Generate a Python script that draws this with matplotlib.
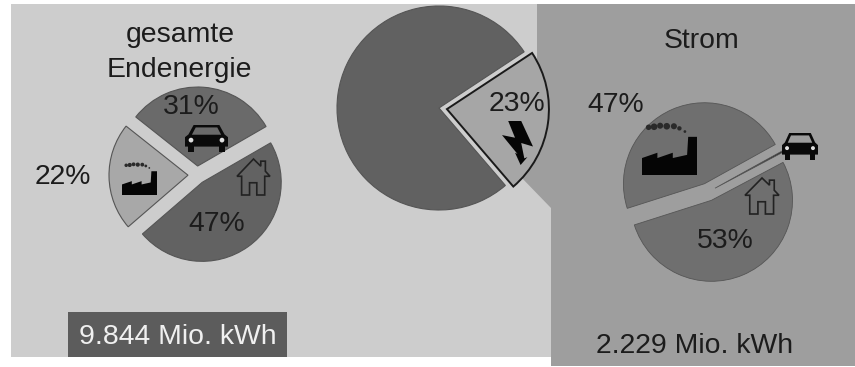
import numpy as np
import matplotlib
matplotlib.use("Agg")
import matplotlib.pyplot as plt
from matplotlib.patches import Polygon, Circle, Rectangle

plt.rcParams['font.family'] = ['Liberation Sans', 'DejaVu Sans']

W, H = 855, 367

# shares in percent
total_labels = ['Verkehr', 'Industrie', 'Haushalte']
total_values = [31, 22, 47]
mid_labels = ['Strom', 'Rest']
mid_values = [23, 77]
power_labels = ['Industrie', 'Haushalte', 'Verkehr']
power_values = [47, 53, 0.3]

total_sum = '9.844 Mio. kWh'
power_sum = '2.229 Mio. kWh'

LIGHT = '#cdcdcd'
DARK = '#9e9e9e'
INK = '#1c1c1c'


def Y(y):
    return H - y


def pts(shape, x0, y0, w, h):
    # unit coords (y pointing down) to axes coords
    return [(x0 + px * w, Y(y0 + py * h)) for px, py in shape]


def draw_car(ax, x0, y0, w, h, bg):
    body = [(0.2, 0.0), (0.8, 0.0), (0.92, 0.35), (1.0, 0.45), (1.0, 0.8), (0.0, 0.8), (0.0, 0.45), (0.08, 0.35)]
    ax.add_patch(Polygon(pts(body, x0, y0, w, h), fc='#0a0a0a', ec='none', zorder=5))
    window = [(0.25, 0.09), (0.75, 0.09), (0.84, 0.36), (0.16, 0.36)]
    ax.add_patch(Polygon(pts(window, x0, y0, w, h), fc=bg, ec='none', zorder=6))
    for cx in (0.14, 0.86):
        ax.add_patch(Rectangle((x0 + (cx - 0.07) * w, Y(y0 + h)), 0.14 * w, 0.25 * h,
                               fc='#0a0a0a', ec='none', zorder=5))
        ax.add_patch(Circle((x0 + cx * w, Y(y0 + 0.56 * h)), 0.055 * w, fc='#e0e0e0', ec='none', zorder=6))


def draw_house(ax, x0, y0, w, h):
    shape = [(0.5, 0.0), (0.72, 0.2), (0.72, 0.06), (0.86, 0.06), (0.86, 0.34), (1.0, 0.48), (0.84, 0.48),
             (0.84, 1.0), (0.6, 1.0), (0.6, 0.66), (0.38, 0.66), (0.38, 1.0), (0.14, 1.0), (0.14, 0.48), (0.0, 0.48)]
    ax.add_patch(Polygon(pts(shape, x0, y0, w, h), fc='none', ec='#222222', lw=1.2, zorder=5))


def draw_factory(ax, x0, y0, w, h, bg):
    shape = [(0.0, 1.0), (0.0, 0.68), (0.28, 0.58), (0.28, 0.68), (0.56, 0.58), (0.56, 0.68), (0.82, 0.62),
             (0.84, 0.28), (1.0, 0.28), (1.0, 1.0)]
    ax.add_patch(Polygon(pts(shape, x0, y0, w, h), fc='#050505', ec='none', zorder=5))
    # smoke puffs rising from the chimney
    for px, py, r in [(0.12, 0.1, 0.05), (0.22, 0.09, 0.06), (0.33, 0.07, 0.055), (0.45, 0.08, 0.06),
                      (0.58, 0.08, 0.055), (0.68, 0.12, 0.04), (0.78, 0.18, 0.025)]:
        ax.add_patch(Circle((x0 + px * w, Y(y0 + py * h)), r * w, fc='#2a2a2a', ec='none', zorder=5))


def draw_bolt(ax, x0, y0, w, h):
    shape = [(0.2, 0.0), (0.62, 0.0), (1.0, 0.58), (0.62, 0.5), (0.72, 0.85), (0.82, 0.82), (0.6, 1.0),
             (0.42, 0.72), (0.5, 0.75), (0.0, 0.32), (0.42, 0.38)]
    ax.add_patch(Polygon(pts(shape, x0, y0, w, h), fc='#050505', ec='none', zorder=5))


fig = plt.figure(figsize=(W / 100, H / 100), dpi=100, facecolor='white')
ax = fig.add_axes([0, 0, 1, 1])

# background panels
ax.add_patch(Rectangle((11, Y(357)), 540, 353, fc=LIGHT, ec='none', zorder=0))
ax.add_patch(Polygon([(537, Y(4)), (W, Y(4)), (W, Y(366)), (551, Y(366)), (551, Y(208)), (519, Y(175)), (537, Y(59))],
                     fc=DARK, ec='none', zorder=1))

# overall final energy; explode is in axes units here
ax.pie(total_values, colors=['#6a6a6a', '#a8a8a8', '#626262'], startangle=30, radius=79,
       center=(197, Y(175)), explode=[9, 9, 9], frame=True,
       wedgeprops={'edgecolor': '#555555', 'linewidth': 0.8})

# share of electricity
mid, _ = ax.pie(mid_values, colors=['#a6a6a6', '#616161'], startangle=-49.4, radius=102,
                center=(439, Y(108)), explode=[8, 0], frame=True,
                wedgeprops={'edgecolor': '#555555', 'linewidth': 0.8})
mid[0].set_edgecolor('#1a1a1a')
mid[0].set_linewidth(1.4)
mid[0].set_zorder(3)

# electricity by sector
ax.pie(power_values, colors=['#6f6f6f', '#6f6f6f', '#222222'], startangle=29, radius=81,
       center=(708, Y(192)), explode=[9, 9, 8], frame=True,
       wedgeprops={'edgecolor': '#555555', 'linewidth': 0.6})

ax.set_xlim(0, W)
ax.set_ylim(0, H)
ax.set_aspect('auto')
ax.axis('off')

draw_car(ax, 185, 125, 43, 27, '#6a6a6a')
draw_factory(ax, 122, 162, 35, 33, '#a8a8a8')
draw_house(ax, 237, 159, 33, 36)
draw_bolt(ax, 502, 121, 31, 44)
draw_factory(ax, 642, 122, 55, 53, '#6f6f6f')
draw_house(ax, 745, 178, 34, 36)
draw_car(ax, 782, 133, 36, 27, DARK)

ax.add_patch(Rectangle((68, Y(357)), 219, 45, fc='#5c5c5c', ec='none', zorder=4))


def label(x, y, s, color=INK):
    ax.text(x, Y(y + 2), s, ha='center', va='center', fontsize=20.4, color=color, zorder=7)


label(180, 33, 'gesamte')
label(179, 68, 'Endenergie')
label(191, 105, f'{total_values[0]}%')
label(63, 175, f'{total_values[1]}%')
label(217, 222, f'{total_values[2]}%')
label(517, 102, f'{mid_values[0]}%')
label(702, 39, 'Strom')
label(616, 103, f'{power_values[0]}%')
label(725, 239, f'{power_values[1]}%')
label(178, 335, total_sum, color='#f0f0f0')
label(695, 344, power_sum)

fig.savefig('out.png', dpi=100, facecolor='white')
